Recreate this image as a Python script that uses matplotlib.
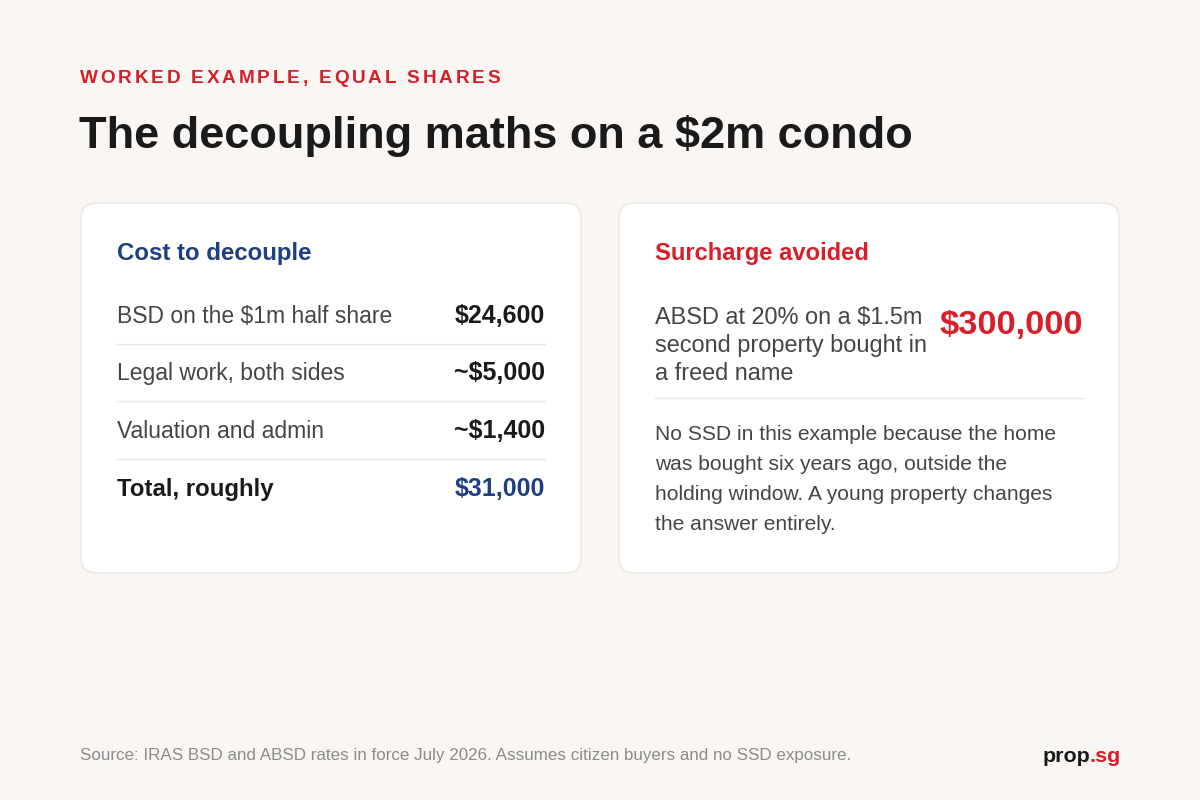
import matplotlib
matplotlib.use("Agg")
import matplotlib.pyplot as plt
from matplotlib.patches import FancyBboxPatch

plt.rcParams['font.family'] = ['Liberation Sans', 'DejaVu Sans']

BG = "#f9f6f3"
CARD = "#ffffff"
EDGE = "#ebe7e3"
RULE = "#e9e6e2"
INK = "#1a1a1a"
GREY = "#454545"
BLUE = "#1f3f80"
RED = "#d71f2a"
MUTED = "#8c8c8c"

kicker = "WORKED EXAMPLE, EQUAL SHARES"
title = "The decoupling maths on a $2m condo"

cost_header = "Cost to decouple"
cost_labels = ["BSD on the $1m half share", "Legal work, both sides",
               "Valuation and admin", "Total, roughly"]
cost_values = ["$24,600", "~$5,000", "~$1,400", "$31,000"]

avoided_header = "Surcharge avoided"
avoided_lines = ["ABSD at 20% on a $1.5m", "second property bought in", "a freed name"]
avoided_value = "$300,000"
note_lines = ["No SSD in this example because the home",
              "was bought six years ago, outside the",
              "holding window. A young property changes",
              "the answer entirely."]

source = "Source: IRAS BSD and ABSD rates in force July 2026. Assumes citizen buyers and no SSD exposure."


def px(p):
    # pixel size -> points at 100 dpi
    return p * 72 / 100


fig = plt.figure(figsize=(12, 8), dpi=100)
fig.patch.set_facecolor(BG)
ax = fig.add_axes([0, 0, 1, 1])
ax.set_xlim(0, 1200)
ax.set_ylim(800, 0)
ax.axis('off')
ren = fig.canvas.get_renderer()


def spaced(x, y, s, size, color, spacing):
    for ch in s:
        if ch == " ":
            x += size * 0.28 + spacing
            continue
        t = ax.text(x, y, ch, fontsize=px(size), color=color, fontweight='bold',
                    va='baseline', ha='left')
        w = t.get_window_extent(ren).width
        x += w + spacing


# header
spaced(80, 83, kicker, 19, RED, 2.8)
ax.text(79, 148, title, fontsize=px(45.2), fontweight='bold', color=INK, va='baseline')

# cards
for x0 in (81, 619):
    ax.add_patch(FancyBboxPatch((x0, 203), 500, 370,
                                boxstyle="round,pad=0,rounding_size=16",
                                fc=CARD, ec=EDGE, lw=1))

# left card
ax.text(117, 260, cost_header, fontsize=px(24), fontweight='bold', color=BLUE, va='baseline')
row_base = [323, 380, 438, 496]
for i, (lab, val) in enumerate(zip(cost_labels, cost_values)):
    last = i == len(cost_labels) - 1
    ax.text(117, row_base[i], lab, fontsize=px(24 if last else 22.9),
            fontweight='bold' if last else 'normal',
            color=INK if last else GREY, va='baseline')
    ax.text(545, row_base[i], val, fontsize=px(25), fontweight='bold',
            color=BLUE if last else INK, va='baseline', ha='right')
    if not last:
        ax.plot([117, 545], [row_base[i] + 21, row_base[i] + 21], color=RULE, lw=1)

# right card
ax.text(655, 260, avoided_header, fontsize=px(23.8), fontweight='bold', color=RED, va='baseline')
for i, line in enumerate(avoided_lines):
    ax.text(655, 324 + i * 28, line, fontsize=px(23.5), color=GREY, va='baseline')
ax.text(1083, 334, avoided_value, fontsize=px(34.5), fontweight='bold', color=RED,
        va='baseline', ha='right')
ax.plot([655, 1083], [398, 398], color=RULE, lw=1)
for i, line in enumerate(note_lines):
    ax.text(655, 440 + i * 30, line, fontsize=px(21), color=GREY, va='baseline')

# footer
ax.text(80, 760, source, fontsize=px(17), color=MUTED, va='baseline')
pr = ax.text(1043, 762, "prop", fontsize=px(21.5), fontweight='bold', color=INK,
             va='baseline', ha='left')
w = pr.get_window_extent(ren).width
ax.text(1043 + w - 1, 762, ".sg", fontsize=px(21.5), fontweight='bold', color=RED,
        va='baseline', ha='left')

fig.savefig("out.png", dpi=100, facecolor=BG)
